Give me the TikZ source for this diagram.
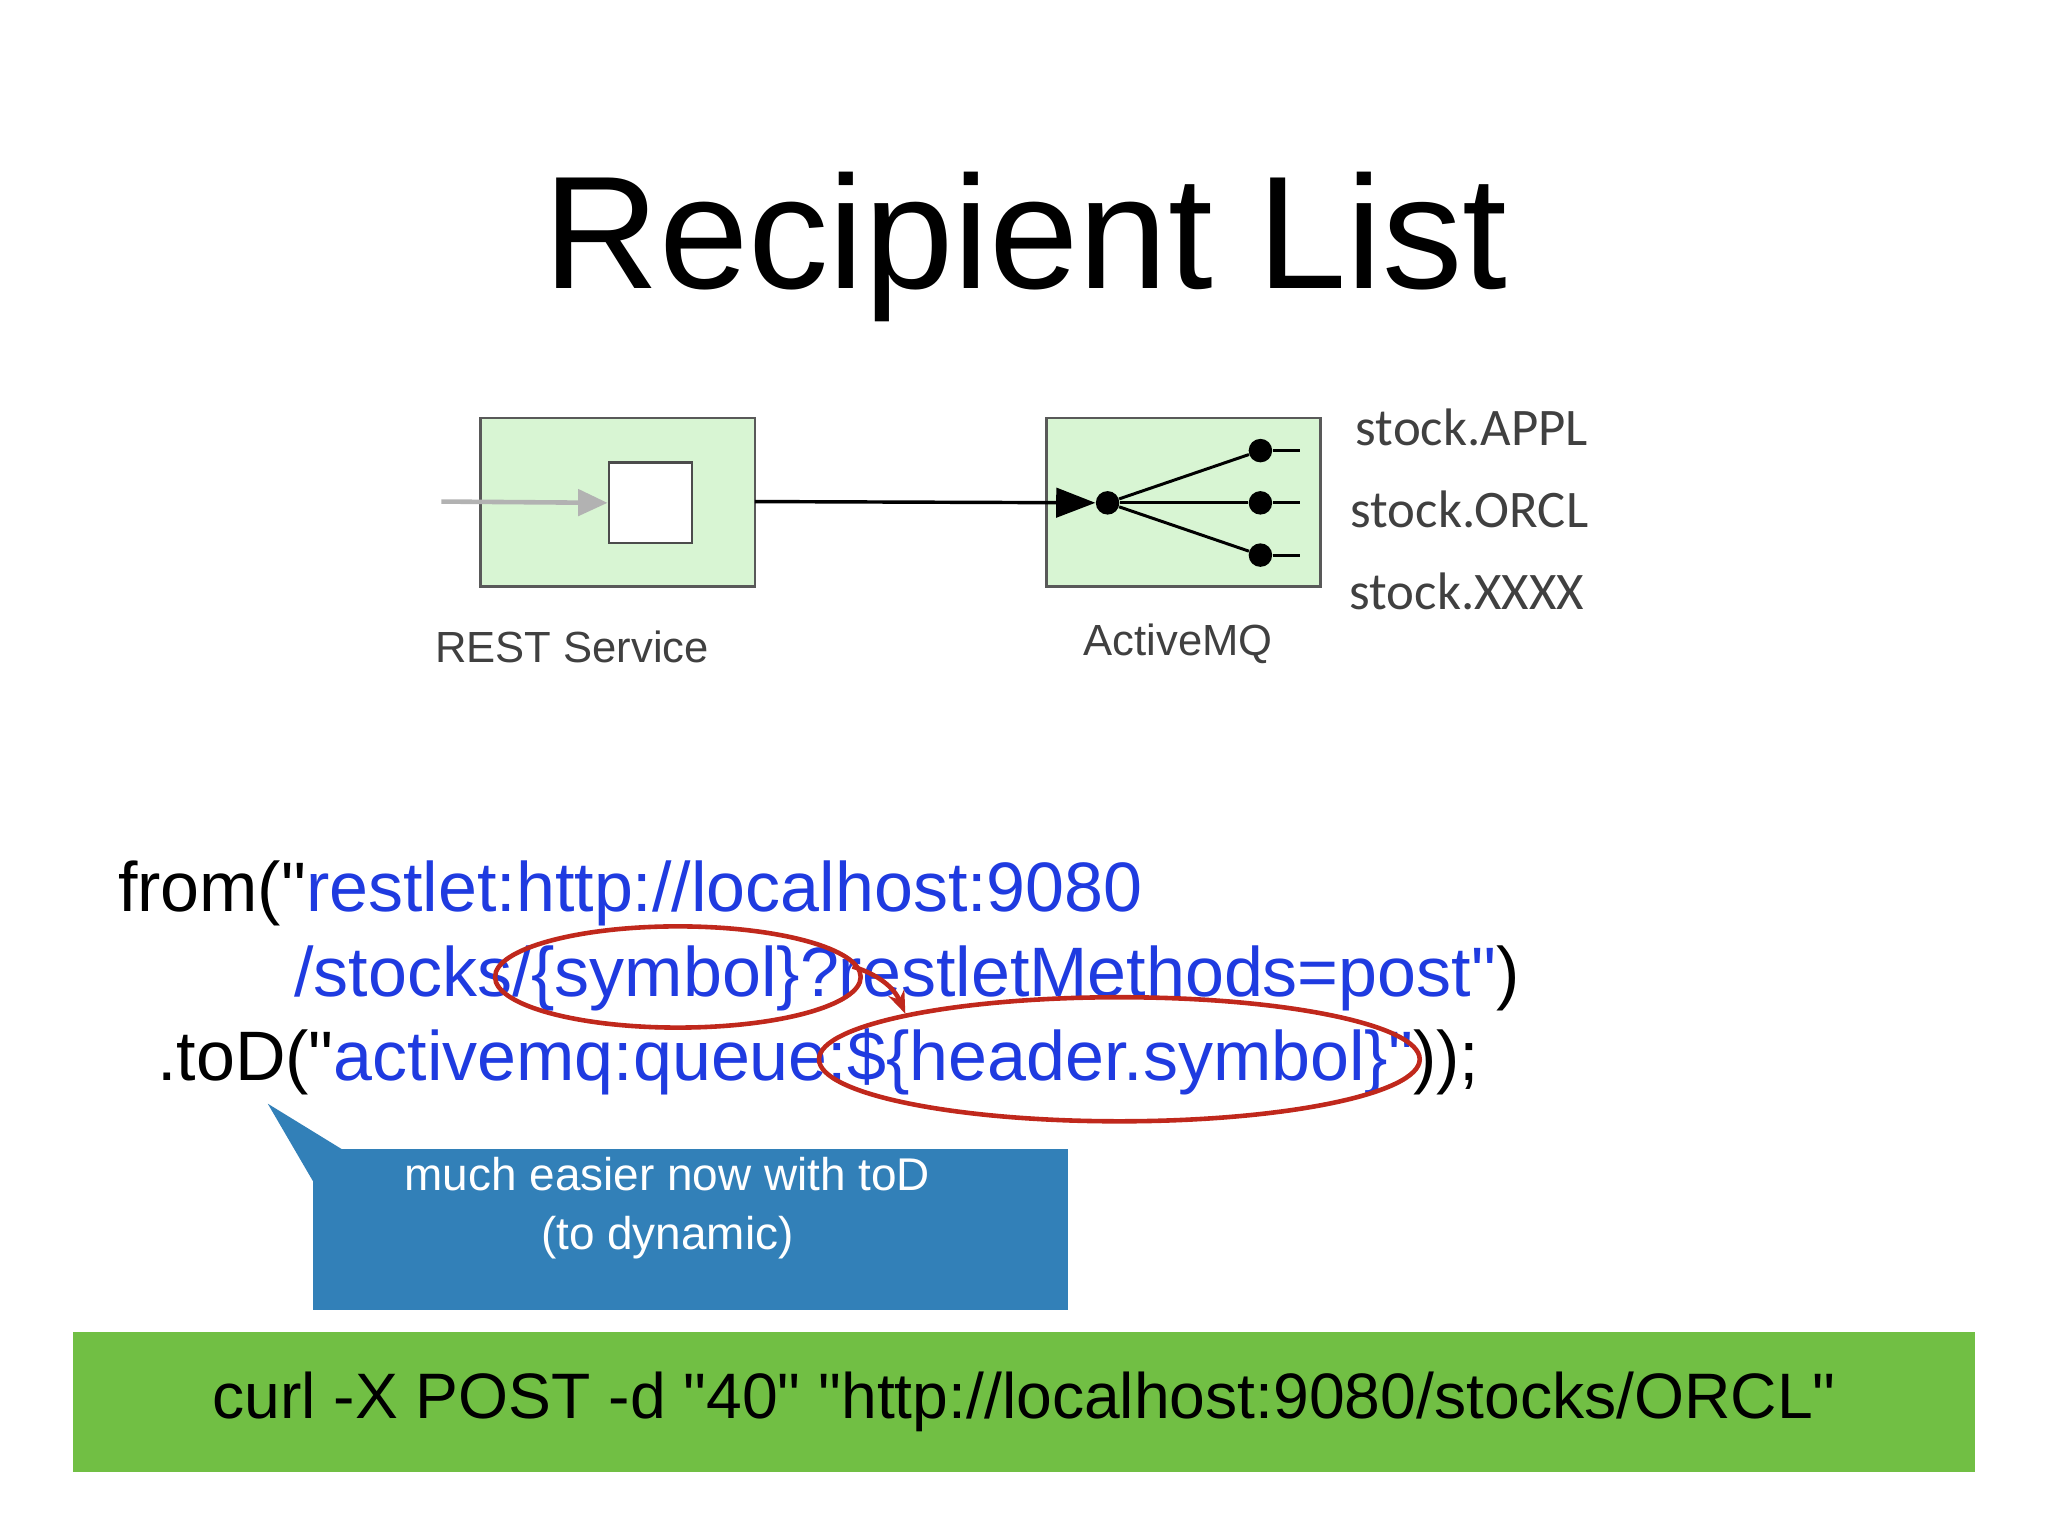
\documentclass[tikz,border=0pt]{standalone}
\usepackage{fontspec}
\setmainfont{Liberation Sans}
\newfontfamily\carlitofont{Carlito}
\usetikzlibrary{arrows.meta,shapes.geometric}
\newcommand\dq{\XeTeXglyph\XeTeXcharglyph"22\relax}
\definecolor{codeblue}{HTML}{1F3BE0}
\definecolor{boxgreen}{HTML}{D8F5D3}
\definecolor{callblue}{HTML}{3280B8}
\definecolor{bargreen}{HTML}{71BF44}
\definecolor{ered}{HTML}{C0281C}
\tikzset{
 box/.style={draw=gray!70!black,line width=1.2pt,fill=boxgreen},
 dot/.style={circle,fill=black,inner sep=0pt,minimum size=0.36cm},
 lbl/.style={font=\carlitofont\fontsize{23}{26}\selectfont,text=black!75},
 caption/.style={font=\fontsize{19}{22}\selectfont,text=black!75},
 code/.style={anchor=base west,font=\fontsize{30.5}{34}\selectfont,inner sep=0pt},
 ell/.style={draw=ered,line width=2pt,ellipse}
}
\begin{document}
\begin{tikzpicture}[x=0.02cm,y=-0.02cm]
\useasboundingbox (0,0) rectangle (1568,1176);
\node[font=\fontsize{70}{74}\selectfont] (title) at (785,189) {Recipient List};
% REST service
\draw[box] (368,320) rectangle (578,449);
\node[draw=black!70,fill=white,minimum width=1.28cm,minimum height=1.24cm,inner sep=0pt,line width=1pt] (sq) at (498,385) {};
\coordinate (in) at (338,384);
\draw[gray!60,line width=2pt,-{Triangle[length=0.45cm,width=0.4cm]}] (in) -- (sq.west);
\node[caption] (restl) at (438,495) {REST Service};
% ActiveMQ
\draw[box] (801,320) rectangle (1011,449);
\node[dot] (d0) at (848,385) {};
\node[dot] (d1) at (965,345) {};
\node[dot] (d2) at (965,385) {};
\node[dot] (d3) at (965,425) {};
\coordinate (rs) at (578,384);
\draw[line width=1.5pt,-{Triangle[length=0.6cm,width=0.45cm]}] (rs) -- (d0);
\foreach \i in {1,2,3}{\draw[line width=1.3pt] (d0) -- (d\i); \draw[line width=1.3pt] (d\i) -- ++(30,0);}
\node[caption] (amq) at (902,493) {ActiveMQ};
\node[lbl] (s1) at (1127,327) {stock.APPL};
\node[lbl] (s2) at (1125,390) {stock.ORCL};
\node[lbl] (s3) at (1123,453) {stock.XXXX};
% code
\node[code] (l1) at (90,698) {from(\dq\textcolor{codeblue}{restlet:http://localhost:9080}};
\node[code] (l2) at (225,763) {\textcolor{codeblue}{/stocks/\{symbol\}?restletMethods=post\dq})};
\node[code] (l3) at (120,827) {.toD(\dq\textcolor{codeblue}{activemq:queue:\$\{header.symbol\}\dq}));};
\node[ell,minimum width=5.6cm,minimum height=1.55cm] (e1) at (519,748) {};
\node[ell,minimum width=9.2cm,minimum height=1.9cm] (e2) at (857,811) {};
\draw[ered,line width=2pt,-{Stealth[length=0.35cm]}] (e1.east) ++(-8,-8) to[bend left=25] (e2.north west);
% callout
\fill[callblue] (240,880) rectangle (818,1003);
\fill[callblue] (205,845) -- (262,880) -- (240,905) -- cycle;
\node[font=\fontsize{20}{26}\selectfont,text=white,align=center] (call) at (511,925) {much easier now with toD\\(to dynamic)};
% green bar
\node[fill=bargreen,minimum width=29.12cm,minimum height=2.14cm,inner sep=0pt,font=\fontsize{28}{32}\selectfont] (curl) at (784,1073.5) {curl -X POST -d \dq40\dq{} \dq http://localhost:9080/stocks/ORCL\dq};
\end{tikzpicture}
\end{document}
